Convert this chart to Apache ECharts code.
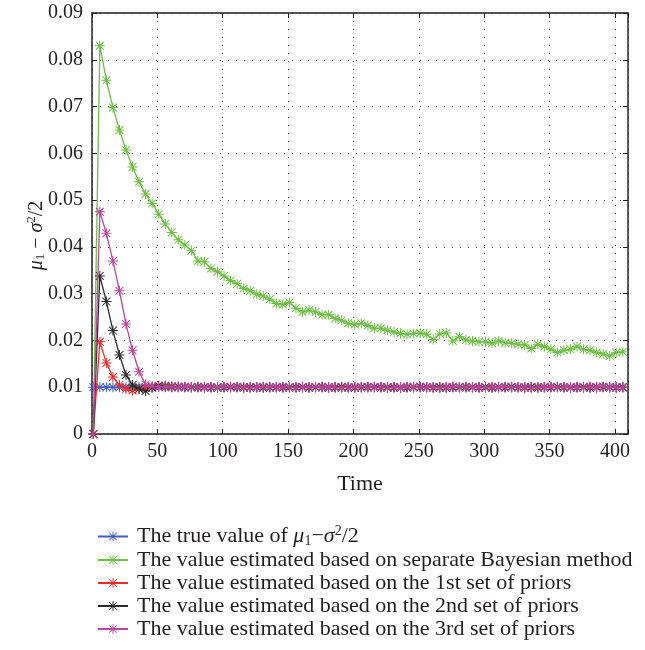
<!DOCTYPE html>
<html><head><meta charset="utf-8">
<script src="https://cdn.jsdelivr.net/npm/echarts@6/dist/echarts.min.js"></script>
<style>html,body{margin:0;padding:0;background:#fff}#c{width:645px;height:650px}</style>
</head><body><div id="c"></div>
<script>
const time = [1,6,11,16,21,26,31,36,41,46,51,56,61,66,71,76,81,86,91,96,
  101,106,111,116,121,126,131,136,141,146,151,156,161,166,171,176,181,186,191,196,
  201,206,211,216,221,226,231,236,241,246,251,256,261,266,271,276,281,286,291,296,
  301,306,311,316,321,326,331,336,341,346,351,356,361,366,371,376,381,386,391,396,
  401,406];

const trueValue = [0.01,0.01,0.01,0.01,0.01,0.01,0.01,0.01,0.01,0.01,
  0.01,0.01,0.01,0.01,0.01,0.01,0.01,0.01,0.01,0.01,
  0.01,0.01,0.01,0.01,0.01,0.01,0.01,0.01,0.01,0.01,
  0.01,0.01,0.01,0.01,0.01,0.01,0.01,0.01,0.01,0.01,
  0.01,0.01,0.01,0.01,0.01,0.01,0.01,0.01,0.01,0.01,
  0.01,0.01,0.01,0.01,0.01,0.01,0.01,0.01,0.01,0.01,
  0.01,0.01,0.01,0.01,0.01,0.01,0.01,0.01,0.01,0.01,
  0.01,0.01,0.01,0.01,0.01,0.01,0.01,0.01,0.01,0.01,
  0.01,0.01];

const separateBayes = [0,0.0830,0.0756,0.0698,0.0650,0.0607,0.0571,0.0539,0.0513,0.0493,
  0.0470,0.0449,0.0431,0.0415,0.0404,0.0392,0.0370,0.0368,0.0354,0.0347,
  0.0338,0.0328,0.0321,0.0311,0.0306,0.0299,0.0295,0.0288,0.0279,0.0277,
  0.0281,0.0269,0.0261,0.0265,0.0261,0.0255,0.0255,0.0247,0.0243,0.0237,
  0.0234,0.0237,0.0232,0.0226,0.0226,0.0222,0.0218,0.0215,0.0213,0.0215,
  0.0216,0.0213,0.0202,0.0214,0.0216,0.0199,0.0208,0.0201,0.0199,0.0197,
  0.0197,0.0194,0.0199,0.0195,0.0194,0.0192,0.0190,0.0183,0.0192,0.0187,
  0.0181,0.0174,0.0179,0.0181,0.0187,0.0181,0.0179,0.0174,0.0171,0.0167,
  0.0174,0.0176];

const prior1 = [0,0.0197,0.0152,0.0122,0.0105,0.0096,0.0093,0.0097,0.0099,0.0101,
  0.0103,0.0103,0.0102,0.0101,0.0101,0.0100,0.0100,0.0101,0.0100,0.0100,
  0.0100,0.0101,0.0100,0.0099,0.0100,0.0100,0.0101,0.0100,0.0100,0.0099,
  0.0100,0.0100,0.0101,0.0100,0.0100,0.0100,0.0099,0.0100,0.0101,0.0100,
  0.0100,0.0100,0.0100,0.0101,0.0100,0.0099,0.0100,0.0100,0.0100,0.0101,
  0.0100,0.0100,0.0099,0.0100,0.0100,0.0101,0.0100,0.0100,0.0100,0.0099,
  0.0100,0.0101,0.0100,0.0100,0.0100,0.0100,0.0099,0.0100,0.0101,0.0100,
  0.0100,0.0100,0.0100,0.0099,0.0100,0.0100,0.0101,0.0100,0.0100,0.0100,
  0.0099,0.0100];

const prior2 = [0,0.0338,0.0283,0.0221,0.0169,0.0126,0.0105,0.0096,0.0092,0.0099,
  0.0103,0.0102,0.0101,0.0101,0.0100,0.0100,0.0101,0.0100,0.0100,0.0099,
  0.0100,0.0100,0.0101,0.0100,0.0100,0.0100,0.0099,0.0100,0.0100,0.0101,
  0.0100,0.0100,0.0100,0.0099,0.0100,0.0101,0.0100,0.0100,0.0100,0.0100,
  0.0099,0.0100,0.0101,0.0100,0.0100,0.0100,0.0100,0.0099,0.0100,0.0100,
  0.0101,0.0100,0.0100,0.0100,0.0099,0.0100,0.0100,0.0101,0.0100,0.0100,
  0.0100,0.0099,0.0100,0.0100,0.0101,0.0100,0.0100,0.0100,0.0099,0.0100,
  0.0100,0.0101,0.0100,0.0100,0.0100,0.0100,0.0099,0.0100,0.0101,0.0100,
  0.0100,0.0100];

const prior3 = [0,0.0475,0.0429,0.0370,0.0306,0.0235,0.0179,0.0133,0.0106,0.0102,
  0.0101,0.0101,0.0100,0.0100,0.0101,0.0100,0.0100,0.0099,0.0100,0.0100,
  0.0101,0.0100,0.0100,0.0100,0.0099,0.0100,0.0101,0.0100,0.0100,0.0100,
  0.0100,0.0099,0.0100,0.0100,0.0101,0.0100,0.0100,0.0100,0.0099,0.0100,
  0.0100,0.0101,0.0100,0.0100,0.0100,0.0099,0.0100,0.0100,0.0101,0.0100,
  0.0100,0.0100,0.0100,0.0099,0.0100,0.0101,0.0100,0.0100,0.0100,0.0100,
  0.0099,0.0100,0.0100,0.0101,0.0100,0.0100,0.0100,0.0099,0.0100,0.0100,
  0.0101,0.0100,0.0100,0.0100,0.0100,0.0099,0.0100,0.0100,0.0101,0.0100,
  0.0100,0.0100];

const seriesNames = [
  'The true value of μ1−σ2/2',
  'The value estimated based on separate Bayesian method',
  'The value estimated based on the 1st set of priors',
  'The value estimated based on the 2nd set of priors',
  'The value estimated based on the 3rd set of priors'
];
const seriesValues = [trueValue, separateBayes, prior1, prior2, prior3];
const seriesColors = ['#3f5fbf', '#6cbf44', '#ee2a2a', '#2b2b2b', '#b9479c'];

const xTicks = [0, 50, 100, 150, 200, 250, 300, 350, 400];
const yTicks = [0, 0.01, 0.02, 0.03, 0.04, 0.05, 0.06, 0.07, 0.08, 0.09];

const STAR = 'path://M0 9L20 9L20 11L0 11Z M9 0L11 0L11 20L9 20Z M1.5 2.9L2.9 1.5L18.5 17.1L17.1 18.5Z M17.1 1.5L18.5 2.9L2.9 18.5L1.5 17.1Z';
const FONT = 'Liberation Serif';
const TXT = '#231f20';

const chart = echarts.init(document.getElementById('c'), null, {renderer: 'canvas'});

const series = seriesNames.map((name, si) => ({
  name: name,
  type: 'line',
  data: time.map((t, i) => [t, seriesValues[si][i]]),
  symbol: STAR,
  symbolSize: 10,
  showSymbol: true,
  lineStyle: {width: 1.3, color: seriesColors[si]},
  itemStyle: {color: seriesColors[si]},
  emphasis: {disabled: true},
  z: 2 + si
}));

const frameAxisCommon = {
  axisLine: {show: true, onZero: false, lineStyle: {color: '#231f20', width: 1.5}},
  axisTick: {show: true, inside: true, length: 5, lineStyle: {color: '#231f20', width: 1}},
  axisLabel: {show: false},
  splitLine: {show: false}
};

const richMath = {
  t: {fontFamily: FONT, fontSize: 20, color: TXT},
  i: {fontFamily: FONT, fontSize: 20, color: TXT, fontStyle: 'italic'},
  s: {fontFamily: FONT, fontSize: 13, color: TXT, padding: [0, 0, -8, 0]},
  p: {fontFamily: FONT, fontSize: 13, color: TXT, padding: [0, 0, 10, 0]}
};

chart.setOption({
  animation: false,
  backgroundColor: '#fff',
  grid: {left: 92, right: 17, top: 13, bottom: 216, containLabel: false},
  legend: {
    orient: 'vertical',
    left: 92, top: 519,
    itemWidth: 30, itemHeight: 12, itemGap: 1,
    selectedMode: false,
    data: seriesNames,
    textStyle: {fontFamily: FONT, fontSize: 22, color: TXT, padding: [0, 0, 0, 4],
      rich: {
        t: {fontFamily: FONT, fontSize: 22, color: TXT},
        i: {fontFamily: FONT, fontSize: 22, color: TXT, fontStyle: 'italic'},
        s: {fontFamily: FONT, fontSize: 14, color: TXT, padding: [0, 0, -9, 0]},
        p: {fontFamily: FONT, fontSize: 14, color: TXT, padding: [0, 0, 11, 0]}
      }
    },
    formatter: function (name) {
      if (name === seriesNames[0]) {
        return '{t|The true value of }{i|μ}{s|1}{t|−}{i|σ}{p|2}{t|/2}';
      }
      return name;
    }
  },
  xAxis: [{
    type: 'value', min: 0, max: 410, interval: 50,
    name: 'Time', nameLocation: 'middle', nameGap: 39, nameMoveOverlap: false,
    nameTextStyle: {fontFamily: FONT, fontSize: 22, color: TXT},
    axisLine: {show: true, onZero: false, lineStyle: {color: '#231f20', width: 1.5}},
    axisTick: {show: true, inside: true, length: 5, lineStyle: {color: '#231f20'}},
    axisLabel: {fontFamily: FONT, fontSize: 20, color: TXT, margin: 8,
      formatter: v => (xTicks.indexOf(v) >= 0 ? String(v) : '')},
    splitLine: {show: true, lineStyle: {color: '#444', width: 1, type: [1, 7]}}
  }, Object.assign({type: 'value', min: 0, max: 410, interval: 50, position: 'top'}, frameAxisCommon)],
  yAxis: [{
    type: 'value', min: 0, max: 0.09, interval: 0.01,
    name: '{i|μ}{s|1}{t| − }{i|σ}{p|2}{t|/2}',
    nameLocation: 'middle', nameGap: 44, nameRotate: 90, nameMoveOverlap: false,
    nameTextStyle: {fontFamily: FONT, fontSize: 20, color: TXT, padding: [0, 24, 0, 0], rich: richMath},
    axisLine: {show: true, onZero: false, lineStyle: {color: '#231f20', width: 1.5}},
    axisTick: {show: true, inside: true, length: 5, lineStyle: {color: '#231f20'}},
    axisLabel: {fontFamily: FONT, fontSize: 20, color: TXT, margin: 9,
      formatter: v => {
        const m = yTicks.find(t => Math.abs(t - v) < 1e-9);
        return m === undefined ? '' : String(m);
      }},
    splitLine: {show: true, lineStyle: {color: '#444', width: 1, type: [1, 7]}}
  }, Object.assign({type: 'value', min: 0, max: 0.09, interval: 0.01, position: 'right'}, frameAxisCommon)],
  series: series
});
</script>
</body></html>
